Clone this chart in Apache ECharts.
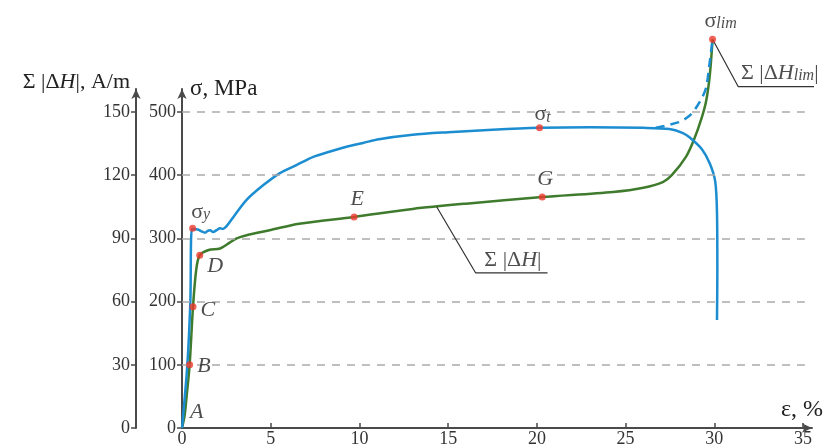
<!DOCTYPE html>
<html>
<head>
<meta charset="utf-8">
<script src="https://cdn.jsdelivr.net/npm/echarts@6/dist/echarts.min.js"></script>
<style>html,body{margin:0;padding:0;background:#fff}#c{width:826px;height:448px}</style>
</head>
<body>
<div id="c"></div>
<script>
// ---- data ----
const strainTicks = [0, 5, 10, 15, 20, 25, 30, 35];
const stressTicks = [0, 100, 200, 300, 400, 500];
const fieldTicks = [0, 30, 60, 90, 120, 150];
const gridStress = [100, 200, 300, 400, 500];

// stress-strain curve (ε %, σ MPa)
const stressCurve = [[0,0],[0.3,100],[0.47,200],[0.56,315],[0.9,314],[1.1,311],[1.3,309],[1.45,312],[1.58,313],[1.75,310],[1.95,313],[2.14,316],[2.3,315],[2.5,319],[2.9,334],[3.64,361],[4.57,384],[5.5,403],[6.45,416],[7.4,429],[8.3,437],[9.27,445],[10.2,451],[11.1,457],[13.0,464],[15,468],[17.5,472],[20.15,475],[23,476],[26,475],[27.46,473],[28.2,467],[28.6,460],[29.3,441],[29.75,418],[30.05,390],[30.15,340],[30.17,250],[30.15,171]];
// dashed continuation (ε %, σ MPa)
const stressDashed = [[26.7,475],[28.0,484],[28.6,494],[29.0,508],[29.35,525],[29.55,540],[29.7,570],[29.9,615]];
// Σ|ΔH| curve (ε %, A/m)
const fieldCurve = [[0,0],[0.15,6],[0.26,15],[0.43,30],[0.62,57.5],[0.8,75],[1.0,82],[1.5,84.5],[2.14,85.2],[2.6,87.5],[3.08,90],[3.64,91.5],[5,94],[6.6,97],[9.7,100.2],[13,104],[16,106.5],[20.3,109.6],[24.3,112],[26,114],[27.1,116.7],[27.6,120],[28.4,128.7],[28.85,136.8],[29.3,147.6],[29.55,155.7],[29.75,168],[29.9,184.5]];

const stressPoints = { y: [0.6,316], t: [20.15,475], lim: [29.9,615] };
const fieldPoints = { A: [0,0], B: [0.43,30], C: [0.62,57.5], D: [1.0,82], E: [9.7,100.2], G: [20.3,109.6] };
const fieldLeader = [[14.35,105],[16.55,73.6],[20.6,73.6]];
const stressLeader = [[29.9,615],[31.35,540],[36.4,540]];

// ---- styles ----
const FONT = 'Liberation Serif';
const BLUE = '#1b8dd0', GREEN = '#3f7b2c', RED = '#ec3a2e', AXIS = '#4a4a4a';

const chart = echarts.init(document.getElementById('c'), null, { renderer: 'canvas' });

const tickLabel = { fontFamily: FONT, fontSize: 18, color: '#333' };
const pointLabelStyle = { fontFamily: FONT, fontSize: 22, fontStyle: 'italic', color: '#222' };
const sigmaRich = {
  s: { fontFamily: FONT, fontSize: 22, color: '#222' },
  sub: { fontFamily: FONT, fontSize: 16, fontStyle: 'italic', color: '#222', padding: [6, 0, 0, 0] }
};
const annRich = {
  n: { fontFamily: FONT, fontSize: 22, color: '#222' },
  i: { fontFamily: FONT, fontSize: 22, fontStyle: 'italic', color: '#222' },
  sub: { fontFamily: FONT, fontSize: 16, fontStyle: 'italic', color: '#222', padding: [6, 0, 0, 0] }
};

function yAxisCommon(max, ticks, offset, name, nameStyle) {
  return {
    type: 'value', position: 'left', offset: offset, min: 0, max: max,
    name: name, nameLocation: 'end', nameGap: 0, nameTextStyle: nameStyle,
    axisLine: { show: true, symbol: ['none', 'arrow'], symbolSize: [7, 10], lineStyle: { color: AXIS, width: 2 } },
    axisTick: { show: true, length: 5, customValues: ticks, lineStyle: { color: AXIS, width: 1.5 } },
    axisLabel: Object.assign({ customValues: ticks, margin: 6 }, tickLabel),
    splitLine: { show: false }
  };
}

const option = {
  animation: false,
  backgroundColor: '#fff',
  grid: { left: 182, right: 13, top: 89, bottom: 20, containLabel: false },
  xAxis: {
    type: 'value', min: 0, max: 35.5,
    name: 'ε, %', nameLocation: 'end', nameGap: -31,
    nameTextStyle: { fontFamily: FONT, fontSize: 24, color: '#222', align: 'left', verticalAlign: 'bottom', padding: [0, 0, 6, 0] },
    axisLine: { show: true, symbol: ['none', 'arrow'], symbolSize: [7, 10], lineStyle: { color: AXIS, width: 2 } },
    axisTick: { show: true, length: 5, inside: true, customValues: strainTicks, lineStyle: { color: AXIS, width: 1.5 } },
    axisLabel: Object.assign({ customValues: strainTicks, margin: 2 }, tickLabel),
    splitLine: { show: false }
  },
  yAxis: [
    yAxisCommon(536.4, stressTicks, 0, 'σ, MPa',
      { fontFamily: FONT, fontSize: 23, color: '#222', align: 'left', verticalAlign: 'middle', padding: [0, 0, 26, 8] }),
    yAxisCommon(160.92, fieldTicks, 46, '{n|Σ |Δ}{i|H}{n||, A/m}',
      { align: 'right', verticalAlign: 'middle', padding: [0, 6, 14, 0], rich: annRich })
  ],
  series: [
    {
      type: 'line', name: 'grid', yAxisIndex: 0, data: [], silent: true,
      markLine: {
        silent: true, symbol: ['none', 'none'], label: { show: false },
        lineStyle: { color: '#aaa', type: [8, 7], width: 1.5 },
        data: gridStress.map(v => [{ coord: [0, v] }, { coord: [35.1, v] }])
      }
    },
    {
      type: 'line', name: 'ΣΔH', yAxisIndex: 1, data: fieldCurve, showSymbol: false, clip: false,
      smooth: 0.3, lineStyle: { color: GREEN, width: 2.5 }, z: 3
    },
    {
      type: 'line', name: 'σ', yAxisIndex: 0, data: stressCurve, showSymbol: false, clip: false,
      smooth: 0.3, lineStyle: { color: BLUE, width: 2.5 }, z: 4
    },
    {
      type: 'line', name: 'σ dashed', yAxisIndex: 0, data: stressDashed, showSymbol: false, clip: false,
      smooth: 0.3, lineStyle: { color: BLUE, width: 2.5, type: [9, 6] }, z: 4
    },
    {
      type: 'line', name: 'leader1', yAxisIndex: 1, data: fieldLeader, showSymbol: false, clip: false,
      lineStyle: { color: '#333', width: 1.2 }, z: 5
    },
    {
      type: 'line', name: 'leader2', yAxisIndex: 0, data: stressLeader, showSymbol: false, clip: false,
      lineStyle: { color: '#333', width: 1.2 }, z: 5
    },
    {
      type: 'scatter', name: 'annot', yAxisIndex: 1, symbolSize: 0, clip: false, z: 6,
      data: [
        { value: [18.65, fieldLeader[1][1]], label: { show: true, position: 'top', distance: 2, formatter: '{n|Σ |Δ}{i|H}{n||}', rich: annRich } }
      ]
    },
    {
      type: 'scatter', name: 'annot2', yAxisIndex: 0, symbolSize: 0, clip: false, z: 6,
      data: [
        { value: [31.5, stressLeader[1][1]], label: { show: true, position: [0, -3], align: 'left', verticalAlign: 'bottom', formatter: '{n|Σ |Δ}{i|H}{sub|lim}{n||}', rich: annRich } }
      ]
    },
    {
      type: 'scatter', name: 'stress points', yAxisIndex: 0, symbolSize: 7, clip: false, z: 7,
      itemStyle: { color: RED },
      data: [
        { value: stressPoints.y, label: { show: true, position: 'top', distance: 4, offset: [8, 2], formatter: '{s|σ}{sub|y}', rich: sigmaRich } },
        { value: stressPoints.t, label: { show: true, position: 'top', distance: 3, offset: [3, 4], formatter: '{s|σ}{sub|t}', rich: sigmaRich } },
        { value: stressPoints.lim, label: { show: true, position: 'top', distance: 4, offset: [8, 0], formatter: '{s|σ}{sub|lim}', rich: sigmaRich } }
      ]
    },
    {
      type: 'scatter', name: 'field points', yAxisIndex: 1, symbolSize: 7, clip: false, z: 7,
      itemStyle: { color: RED },
      label: Object.assign({ show: true }, pointLabelStyle),
      data: [
        { value: fieldPoints.A, symbolSize: 0, label: { position: 'right', distance: 8, offset: [0, -16], formatter: 'A' } },
        { value: fieldPoints.B, label: { position: 'right', distance: 4, offset: [0, 1], formatter: 'B' } },
        { value: fieldPoints.C, label: { position: 'right', distance: 4, offset: [0, 3], formatter: 'C' } },
        { value: fieldPoints.D, label: { position: 'right', distance: 4, offset: [0, 11], formatter: 'D' } },
        { value: fieldPoints.E, label: { position: 'top', distance: 3, offset: [3, 0], formatter: 'E' } },
        { value: fieldPoints.G, label: { position: 'top', distance: 3, offset: [3, 0], formatter: 'G' } }
      ]
    }
  ]
};
chart.setOption(option);
</script>
</body>
</html>
